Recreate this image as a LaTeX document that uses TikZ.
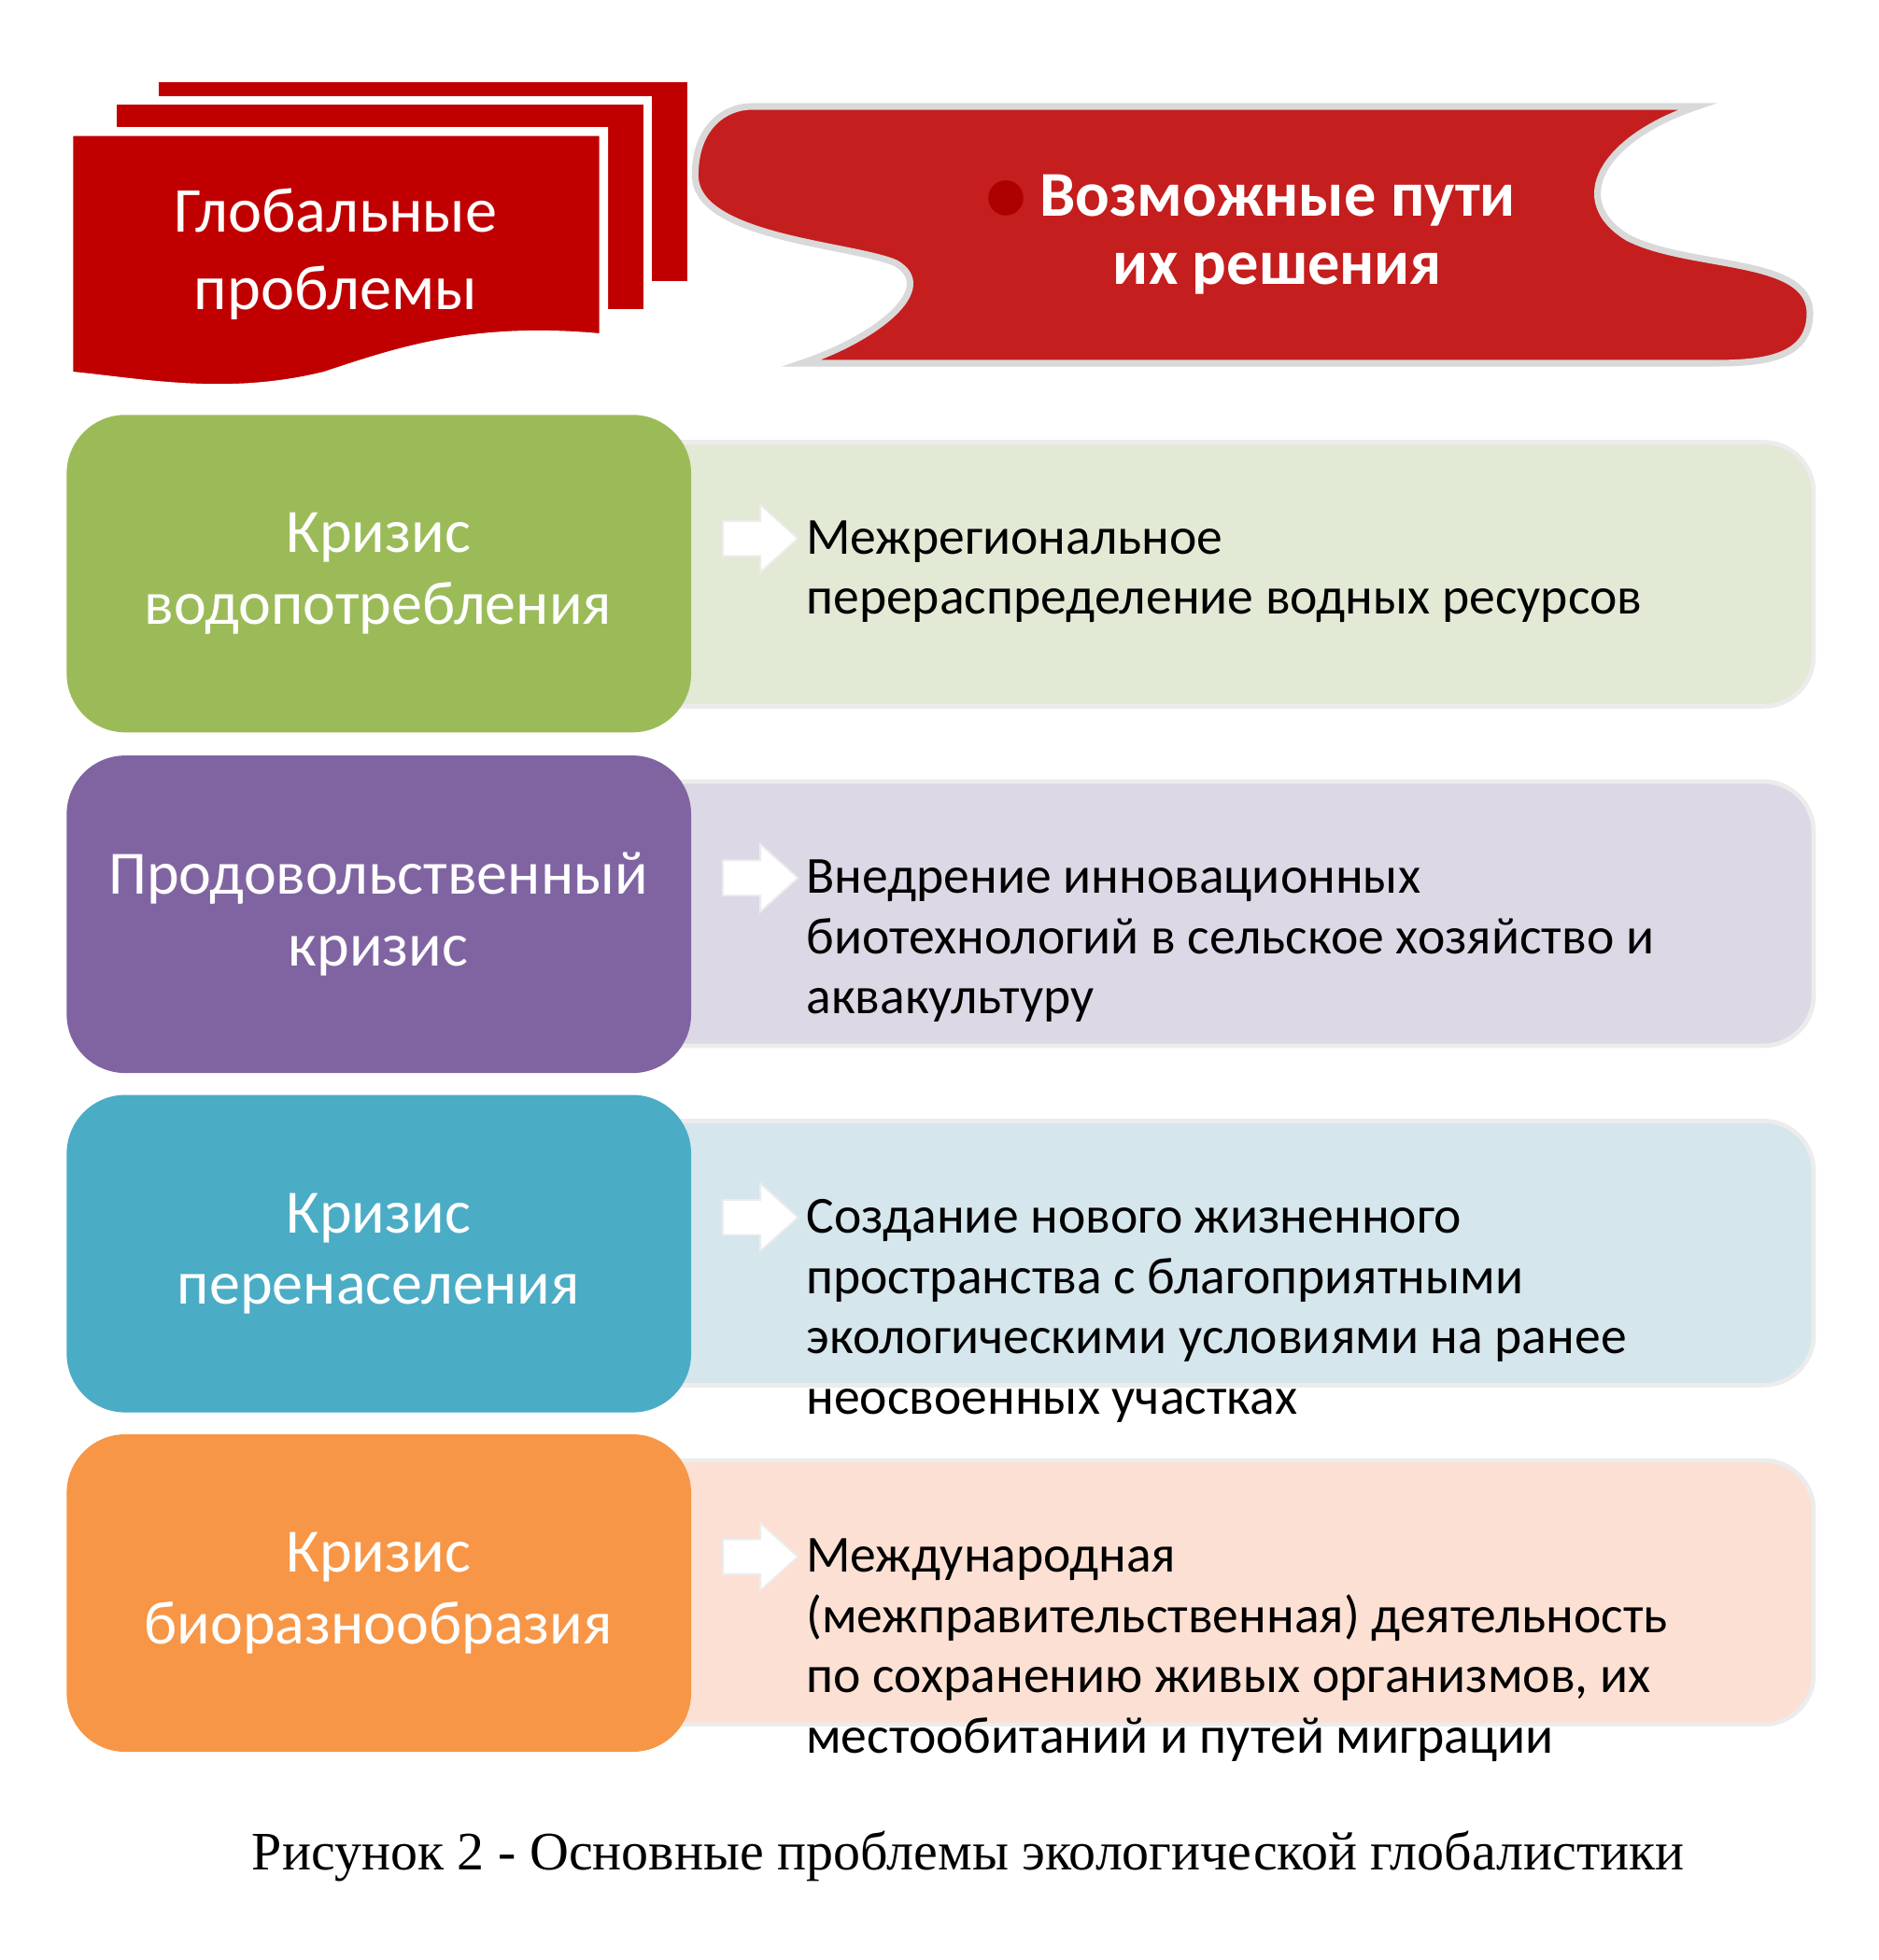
\documentclass[tikz,border=0pt]{standalone}
\usepackage{fontspec}
\setmainfont{Carlito}
\newfontfamily\capfont{Liberation Serif}
\begin{document}
\begin{tikzpicture}[x=0.01cm,y=-0.01cm,
  lbox/.style={rounded corners=0.45cm,draw=white,line width=1pt},
  rbox/.style={rounded corners=0.4cm},
  ltext/.style={text=white,font=\fontsize{14}{16.3}\selectfont,align=center},
  rtext/.style={font=\fontsize{11.8}{13.7}\selectfont,align=left,anchor=north west,inner sep=0pt},
  warrow/.style={fill=white,draw=white!85!gray}]
\useasboundingbox (0,0) rectangle (1500,1565);
\definecolor{hred}{HTML}{C00000}
\definecolor{bred}{HTML}{C41E1E}
% left header pages
\fill[hred,draw=white,line width=2pt] (123,62) rectangle (552,228);
\fill[hred,draw=white,line width=2pt] (90,80) rectangle (517,250);
\fill[hred,draw=white,line width=2pt] (55,105) -- (482,105) -- (482,270) .. controls (380,260) and (320,280) .. (260,300) .. controls (180,320) and (110,305) .. (55,300) -- cycle;
\node[ltext,font=\fontsize{14.5}{17.5}\selectfont] (gp) at (268,203) {Глобальные\\проблемы};
% right banner
\fill[bred,draw=gray!30,line width=1.5pt] (600,85) -- (1355,85) .. controls (1280,110) and (1250,160) .. (1300,190) .. controls (1350,215) and (1445,205) .. (1445,250) .. controls (1445,285) and (1410,290) .. (1370,290) -- (640,290) .. controls (700,270) and (750,230) .. (715,210) .. controls (680,195) and (555,190) .. (555,140) .. controls (555,100) and (580,85) .. (600,85) -- cycle;
\fill[hred!90!black] (803,158) circle (14);
\node[text=white,font=\bfseries\fontsize{14.5}{15.5}\selectfont,align=center] (rp) at (1020,187) {Возможные пути\\их решения};
% rows
\definecolor{c1}{HTML}{9BBB59}\definecolor{l1}{HTML}{E2E9D5}
\definecolor{c2}{HTML}{8064A2}\definecolor{l2}{HTML}{DDD8E5}
\definecolor{c3}{HTML}{4BACC6}\definecolor{l3}{HTML}{D5E6EC}
\definecolor{c4}{HTML}{F79646}\definecolor{l4}{HTML}{FCE0D3}
\foreach \i/\ly/\ry/\lt/\rt in {
 1/333/353/{Кризис\\водопотребления}/{Межрегиональное\\перераспределение водных ресурсов},
 2/605/624/{Продовольственный\\кризис}/{Внедрение инновационных\\биотехнологий в сельское хозяйство и\\аквакультуру},
 3/876/895/{Кризис\\перенаселения}/{Создание нового жизненного\\пространства с благоприятными\\экологическими условиями на ранее\\неосвоенных участках},
 4/1147/1166/{Кризис\\биоразнообразия}/{Международная\\(межправительственная) деятельность\\по сохранению живых организмов, их\\местообитаний и путей миграции}}{
  \fill[rbox,l\i,draw=white!85!gray,line width=1pt] (500,\ry) rectangle (1448,\ry+211);
  \fill[lbox,c\i] (55,\ly) rectangle (550,\ly+250);
  \node[ltext] (L\i) at (302,\ly+125) {\lt};
  \path[warrow] (577,\ry+63) -- (607,\ry+63) -- (607,\ry+50) -- (637,\ry+77) -- (607,\ry+104) -- (607,\ry+91) -- (577,\ry+91) -- cycle;
  \node[rtext] (R\i) at (643,\ry+62) {\rt};
}
\node[font=\capfont\fontsize{12.3}{14}\selectfont] (cap) at (773,1482) {Рисунок 2 - Основные проблемы экологической глобалистики};
\end{tikzpicture}
\end{document}
